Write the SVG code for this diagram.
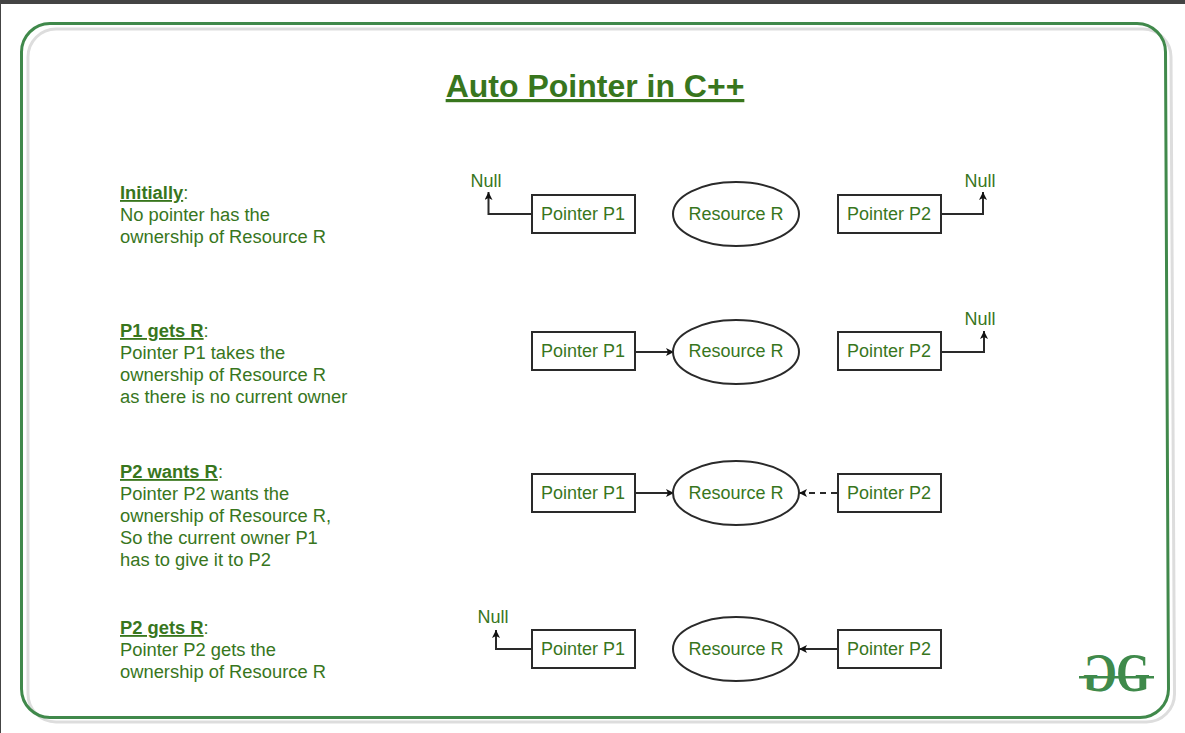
<svg xmlns="http://www.w3.org/2000/svg" width="1185" height="733" viewBox="0 0 1185 733">
<style>
text{font-family:"Liberation Sans",Arial,sans-serif;fill:#38761d;font-size:18px}
#notes text{font-size:18.35px}
.c{text-anchor:middle}
.h{font-weight:bold;text-decoration:underline}
.n{fill:#fff;stroke:#2a2a2a;stroke-width:2}
.l{fill:none;stroke:#2a2a2a;stroke-width:2}
.d{stroke-dasharray:6 5}
.e{marker-end:url(#a)}
.g{font-family:"Liberation Serif",serif;font-weight:bold;font-size:55px;fill:#3f8a4b;text-anchor:middle}
</style>
<defs><marker id="a" markerUnits="userSpaceOnUse" markerWidth="10" markerHeight="10" refX="8" refY="4" orient="auto"><path d="M0 0L8 4L0 8L2 4Z" fill="#111"/></marker></defs>
<rect width="1185" height="733" fill="#fff"/>
<rect width="1185" height="4" fill="#444"/>
<rect y="4" width="1" height="729" fill="#444"/>
<g id="frame" fill="none">
<path d="M56 29H1143A28 28 0 0 1 1171 57L1174.500 694A28 28 0 0 1 1146.500 722H56A28 28 0 0 1 28 694V57A28 28 0 0 1 56 29Z" stroke="#ddd" stroke-width="3"/>
<path d="M50 23.500H1137A28.500 28.500 0 0 1 1165.500 52L1168.500 689A28.500 28.500 0 0 1 1140 717.500H50A28.500 28.500 0 0 1 21.500 689V52A28.500 28.500 0 0 1 50 23.500Z" stroke="#40894b" stroke-width="3"/>
</g>
<g id="title"><text class="h c" x="595" y="97" style="font-size:32px">Auto Pointer in C++</text></g>
<g id="connectors">
<path class="l e" d="M532 214H488.500V192"/>
<path class="l e" d="M942 214H983V192"/>
<path class="l e" d="M636 352H674"/>
<path class="l e" d="M942 352H984V331"/>
<path class="l e" d="M636 493H674"/>
<path class="l d e" d="M837 493H799"/>
<path class="l e" d="M532 649H496V630"/>
<path class="l e" d="M837 649H799"/>
</g>
<g id="notes">
<g id="note1"><text x="120" y="199"><tspan class="h">Initially</tspan>:</text><text x="120" y="221">No pointer has the</text><text x="120" y="243">ownership of Resource R</text></g>
<g id="note2"><text x="120" y="337"><tspan class="h">P1 gets R</tspan>:</text><text x="120" y="359">Pointer P1 takes the</text><text x="120" y="381">ownership of Resource R</text><text x="120" y="403">as there is no current owner</text></g>
<g id="note3"><text x="120" y="478"><tspan class="h">P2 wants R</tspan>:</text><text x="120" y="500">Pointer P2 wants the</text><text x="120" y="522">ownership of Resource R,</text><text x="120" y="544">So the current owner P1</text><text x="120" y="566">has to give it to P2</text></g>
<g id="note4"><text x="120" y="634"><tspan class="h">P2 gets R</tspan>:</text><text x="120" y="656">Pointer P2 gets the</text><text x="120" y="678">ownership of Resource R</text></g>
</g>
<g id="r1-p1"><rect class="n" x="532" y="195" width="103" height="38"/><text class="c" x="583" y="220">Pointer P1</text></g>
<g id="r1-r"><ellipse class="n" cx="736" cy="214" rx="63" ry="32"/><text class="c" x="736" y="220">Resource R</text></g>
<g id="r1-p2"><rect class="n" x="838" y="195" width="103" height="38"/><text class="c" x="889" y="220">Pointer P2</text></g>
<g id="r1-null1"><text class="c" x="486" y="187">Null</text></g>
<g id="r1-null2"><text class="c" x="980" y="187">Null</text></g>
<g id="r2-p1"><rect class="n" x="532" y="332" width="103" height="38"/><text class="c" x="583" y="357">Pointer P1</text></g>
<g id="r2-r"><ellipse class="n" cx="736" cy="352" rx="63" ry="32"/><text class="c" x="736" y="357">Resource R</text></g>
<g id="r2-p2"><rect class="n" x="838" y="332" width="103" height="38"/><text class="c" x="889" y="357">Pointer P2</text></g>
<g id="r2-null"><text class="c" x="980" y="325">Null</text></g>
<g id="r3-p1"><rect class="n" x="532" y="474" width="103" height="38"/><text class="c" x="583" y="499">Pointer P1</text></g>
<g id="r3-r"><ellipse class="n" cx="736" cy="493" rx="63" ry="32"/><text class="c" x="736" y="499">Resource R</text></g>
<g id="r3-p2"><rect class="n" x="838" y="474" width="103" height="38"/><text class="c" x="889" y="499">Pointer P2</text></g>
<g id="r4-p1"><rect class="n" x="532" y="630" width="103" height="38"/><text class="c" x="583" y="655">Pointer P1</text></g>
<g id="r4-r"><ellipse class="n" cx="736" cy="649" rx="63" ry="32"/><text class="c" x="736" y="655">Resource R</text></g>
<g id="r4-p2"><rect class="n" x="838" y="630" width="103" height="38"/><text class="c" x="889" y="655">Pointer P2</text></g>
<g id="r4-null"><text class="c" x="493" y="623">Null</text></g>
<g id="logo">
<text class="g" transform="translate(1133 691) scale(.8 1)">G</text>
<text class="g" transform="translate(1100 691) scale(-.8 1)">G</text>
<rect x="1079" y="676" width="75" height="2.500" fill="#3f8a4b"/>
</g>
</svg>
